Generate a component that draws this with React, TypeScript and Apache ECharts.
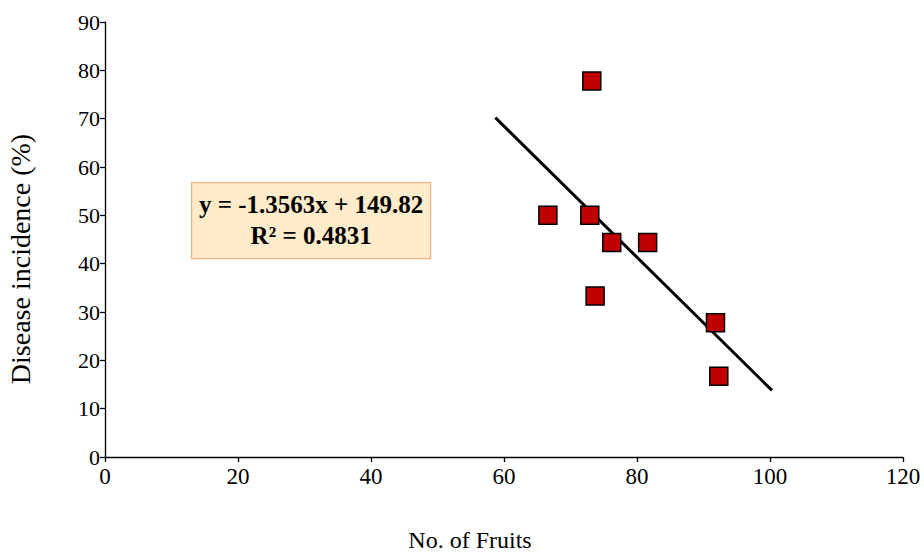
import React, { useEffect, useRef } from "react";
import * as echarts from "echarts";

const fruits = [73.2, 66.6, 72.9, 76.2, 81.6, 73.7, 91.8, 92.3];
const incidence = [77.8, 50, 50, 44.4, 44.4, 33.3, 27.8, 16.7];
const slope = -1.3563;
const intercept = 149.82;
const trendX = [58.7, 100.3];
const xTicks = [0, 20, 40, 60, 80, 100, 120];
const yTicks = [0, 10, 20, 30, 40, 50, 60, 70, 80, 90];
const equationLines = ["y = -1.3563x + 149.82", "R² = 0.4831"];
const xTitle = "No. of Fruits";
const yTitle = "Disease incidence (%)";

const FONT = "'Liberation Serif', 'Times New Roman', serif";

export default function App() {
  const ref = useRef<HTMLDivElement>(null);
  useEffect(() => {
    if (!ref.current) return;
    const chart = echarts.init(ref.current, null, { renderer: "svg" });
    const points = fruits.map((x, i) => [x, incidence[i]]);
    const trend = trendX.map((x) => [x, slope * x + intercept]);
    chart.setOption({
      animation: false,
      backgroundColor: "#ffffff",
      grid: { left: 105, right: 21, top: 22, bottom: 102 },
      xAxis: {
        type: "value",
        min: xTicks[0],
        max: xTicks[xTicks.length - 1],
        interval: 20,
        axisLine: { show: true, lineStyle: { color: "#000", width: 1.3 } },
        axisTick: { show: true, length: 5, lineStyle: { color: "#000", width: 1.3 } },
        axisLabel: { fontFamily: FONT, fontSize: 23, color: "#000", margin: 8 },
        splitLine: { show: false },
      },
      yAxis: {
        type: "value",
        min: yTicks[0],
        max: yTicks[yTicks.length - 1],
        interval: 10,
        axisLine: { show: true, lineStyle: { color: "#000", width: 1.3 } },
        axisTick: { show: true, length: 5, lineStyle: { color: "#000", width: 1.3 } },
        axisLabel: { fontFamily: FONT, fontSize: 22, color: "#000", margin: 5 },
        splitLine: { show: false },
      },
      series: [
        {
          type: "line",
          data: trend,
          symbol: "none",
          lineStyle: { color: "#000", width: 3 },
          z: 3,
        },
        {
          type: "scatter",
          data: points,
          symbol: "rect",
          symbolSize: 18,
          itemStyle: { color: "#C00000", borderColor: "#000", borderWidth: 1.5, opacity: 1 },
          z: 4,
        },
      ],
      graphic: [
        {
          type: "text",
          x: 470,
          y: 540,
          style: {
            text: xTitle,
            fontFamily: FONT,
            fontSize: 24,
            fill: "#000",
            align: "center",
            verticalAlign: "middle",
          },
        },
        {
          type: "text",
          x: 20,
          y: 259,
          rotation: Math.PI / 2,
          style: {
            text: yTitle,
            fontFamily: FONT,
            fontSize: 28,
            fill: "#000",
            align: "center",
            verticalAlign: "middle",
          },
        },
        {
          type: "group",
          left: 191,
          top: 182,
          children: [
            {
              type: "rect",
              shape: { x: 0, y: 0, width: 239, height: 76 },
              style: { fill: "#FDEBC9", stroke: "#F4B183", lineWidth: 1.2 },
            },
            {
              type: "text",
              x: 119.5,
              y: 22,
              style: {
                text: equationLines[0],
                fontFamily: FONT,
                fontSize: 25,
                fontWeight: "bold",
                fill: "#000",
                align: "center",
                verticalAlign: "middle",
              },
            },
            {
              type: "text",
              x: 119.5,
              y: 53,
              style: {
                text: equationLines[1],
                fontFamily: FONT,
                fontSize: 25,
                fontWeight: "bold",
                fill: "#000",
                align: "center",
                verticalAlign: "middle",
              },
            },
          ],
        },
      ],
    });
    return () => chart.dispose();
  }, []);
  return <div ref={ref} style={{ width: 924, height: 559, position: "absolute", left: 0, top: 0 }} />;
}
